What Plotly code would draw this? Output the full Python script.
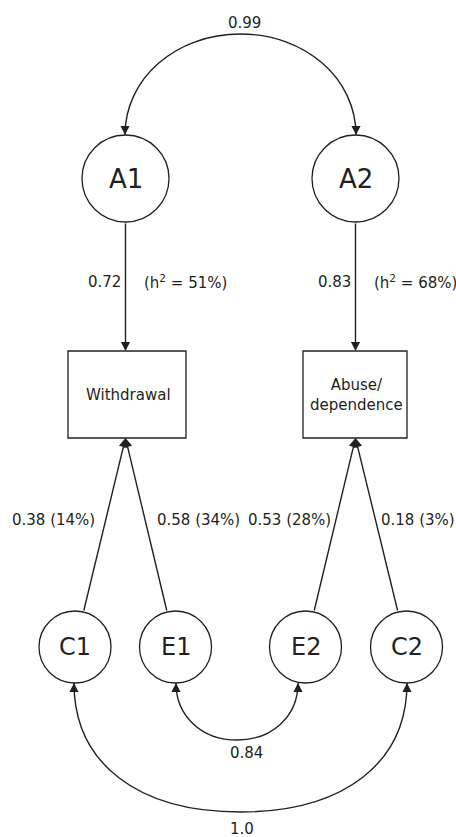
import plotly.graph_objects as go

# ---------------- data ----------------
latent_names = ["A1", "A2", "C1", "E1", "E2", "C2"]
observed_names = ["Withdrawal", "Abuse/<br>dependence"]
a_loadings = ["0.72", "0.83"]
heritability = ["51%", "68%"]
ce_paths = ["0.38 (14%)", "0.58 (34%)", "0.53 (28%)", "0.18 (3%)"]
ce_sources = ["C1", "E1", "E2", "C2"]
ce_targets = [0, 0, 1, 1]
corr_values = ["0.99", "0.84", "1.0"]

# ---------------- layout (diagram geometry, pixels) ----------------
W, H = 456, 837
INK = "#231f20"
FONT = "DejaVu Sans"

node_pos = {"A1": (125.5, 178.5), "A2": (355.5, 178.5),
            "C1": (75, 647), "E1": (175.5, 647), "E2": (305.5, 647), "C2": (406.5, 647)}
node_r = {"A1": 43.5, "A2": 43.5, "C1": 36, "E1": 36, "E2": 36, "C2": 36}
node_font = {"A1": 26, "A2": 26, "C1": 24, "E1": 24, "E2": 24, "C2": 24}
box_pos = [(68, 351, 186, 438), (303, 351, 407, 438)]

fig = go.Figure()
fig.add_trace(go.Scatter(x=[0, W], y=[0, H], mode="markers",
                         marker=dict(opacity=0), hoverinfo="skip", showlegend=False))

shapes = []
ann = []

# circles
for n in latent_names:
    cx, cy = node_pos[n]
    r = node_r[n]
    shapes.append(dict(type="circle", xref="x", yref="y", x0=cx - r, x1=cx + r,
                       y0=cy - r, y1=cy + r, line=dict(color=INK, width=1.3)))
    ann.append(dict(x=cx, y=cy, text=n, showarrow=False,
                    font=dict(family=FONT, size=node_font[n], color=INK)))

# boxes
for (x0, y0, x1, y1), name in zip(box_pos, observed_names):
    shapes.append(dict(type="rect", xref="x", yref="y", x0=x0, x1=x1, y0=y0, y1=y1,
                       line=dict(color=INK, width=1.3)))
    ann.append(dict(x=(x0 + x1) / 2 + 1, y=(y0 + y1) / 2, text=name, showarrow=False,
                    font=dict(family=FONT, size=15, color=INK)))

arrow_style = dict(showarrow=True, arrowhead=2, arrowsize=1.3, arrowwidth=1.4,
                   arrowcolor=INK, standoff=0, startstandoff=0, text="")

# A -> observed
for i, a in enumerate(["A1", "A2"]):
    cx, cy = node_pos[a]
    r = node_r[a]
    x0, y0, x1, y1 = box_pos[i]
    ann.append(dict(x=cx, y=y0, ax=cx, ay=cy + r, axref="x", ayref="y", **arrow_style))
    ann.append(dict(x=cx - 3, y=282, text=a_loadings[i], showarrow=False, xanchor="right",
                    font=dict(family=FONT, size=15, color=INK)))
    ann.append(dict(x=cx + 16, y=282, text="(h<sup>2</sup> = " + heritability[i] + ")",
                    showarrow=False, xanchor="left",
                    font=dict(family=FONT, size=15, color=INK)))

# C/E -> observed
label_x = [97, 155, 333, 379]
label_anchor = ["right", "left", "right", "left"]
for j, (src, tgt) in enumerate(zip(ce_sources, ce_targets)):
    cx, cy = node_pos[src]
    r = node_r[src]
    tx = node_pos[["A1", "A2"][tgt]][0]
    ty = box_pos[tgt][3]
    dx, dy = tx - cx, ty - cy
    L = (dx * dx + dy * dy) ** 0.5
    sx, sy = cx + dx / L * r, cy + dy / L * r
    ann.append(dict(x=tx, y=ty, ax=sx, ay=sy, axref="x", ayref="y", **arrow_style))
    ann.append(dict(x=label_x[j], y=520, text=ce_paths[j], showarrow=False,
                    xanchor=label_anchor[j],
                    font=dict(family=FONT, size=15, color=INK)))

# correlation arcs
arc_geom = [  # (x_left, x_right, base_y, extreme_y, k)
    (125, 356, 135, 34, 0.56),
    (176, 298, 683, 740, 0.58),
    (74, 407, 683, 812, 0.62),
]
arc_label = [(244, 23), (246, 753), (242, 829)]
for (xl, xr, by, ey, k), (lx, ly), val in zip(arc_geom, arc_label, corr_values):
    cx = (xl + xr) / 2
    rx = (xr - xl) / 2
    ry = ey - by
    path = (f"M{xl},{by} C{xl},{by + k * ry} {cx - k * rx},{ey} {cx},{ey} "
            f"C{cx + k * rx},{ey} {xr},{by + k * ry} {xr},{by}")
    shapes.append(dict(type="path", xref="x", yref="y", path=path,
                       line=dict(color=INK, width=1.4)))
    off = -10 if ey < by else 10
    for xe in (xl, xr):
        ann.append(dict(x=xe, y=by, ax=0, ay=off, **arrow_style))
    ann.append(dict(x=lx, y=ly, text=val, showarrow=False,
                    font=dict(family=FONT, size=15, color=INK)))

fig.update_layout(
    width=W, height=H, margin=dict(l=0, r=0, t=0, b=0),
    paper_bgcolor="white", plot_bgcolor="white",
    xaxis=dict(range=[0, W], visible=False, fixedrange=True),
    yaxis=dict(range=[H, 0], visible=False, fixedrange=True),
    shapes=shapes, annotations=ann, showlegend=False,
)
fig.write_html("out.html", config={"displayModeBar": False},
               post_script="document.body.style.margin='0';document.body.style.overflow='hidden';")
